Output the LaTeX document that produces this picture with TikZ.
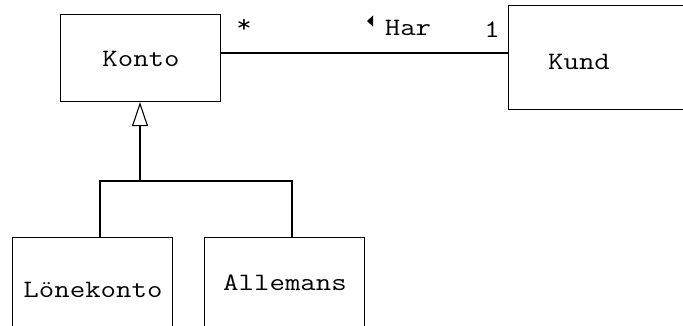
\documentclass[tikz,border=0pt]{standalone}
\usepackage{fontspec}
\setmonofont[FakeStretch=1.2]{Latin Modern Mono}
\usetikzlibrary{arrows.meta}
\tikzset{
  box/.style={draw, line width=1.1pt, rectangle, inner sep=0pt, anchor=north west},
  lbl/.style={font=\ttfamily\fontsize{25}{25}\selectfont, anchor=base, inner sep=0pt},
  conn/.style={line width=1.1pt},
}
\begin{document}
\begin{tikzpicture}[x=1pt,y=-1pt]
\useasboundingbox (0,0) rectangle (683,325);
\clip (0,0) rectangle (683,325);
% boxes
\node[box, minimum width=160pt, minimum height=87pt] (konto) at (60,14) {};
\node[box, minimum width=200pt, minimum height=104pt] (kund) at (508,5) {};
\node[box, minimum width=160pt, minimum height=110pt] (lone) at (12,237) {};
\node[box, minimum width=160pt, minimum height=110pt] (alle) at (204,237) {};
% class names
\node[lbl] (tkonto) at (141,66.7) {Konto};
\node[lbl] (tkund) at (579,69) {Kund};
\node[lbl] (tlone) at (93,297.7) {Lönekonto};
\node[lbl] (talle) at (285,290) {Allemans};
% association
\coordinate (ay) at (300,53);
\draw[conn] (konto.east |- ay) -- (kund.west |- ay);
\node[lbl] (star) at (244,32) {*};
\node[lbl] (har) at (408,35) {Har};
\node[lbl] (one) at (492,37) {1};
\fill (367,21) -- (373,15.5) -- (373,26.5) -- cycle;
% generalization
\coordinate (j) at (140,181);
\coordinate (l1) at (100,181);
\coordinate (a1) at (292,181);
\draw[conn, -{Triangle[open, length=24pt, width=16pt, line width=1.1pt]}] (j) -- (konto.south -| j);
\draw[conn] (l1 |- lone.north) -- (l1) -- (a1) -- (a1 |- alle.north);
\end{tikzpicture}
\end{document}
